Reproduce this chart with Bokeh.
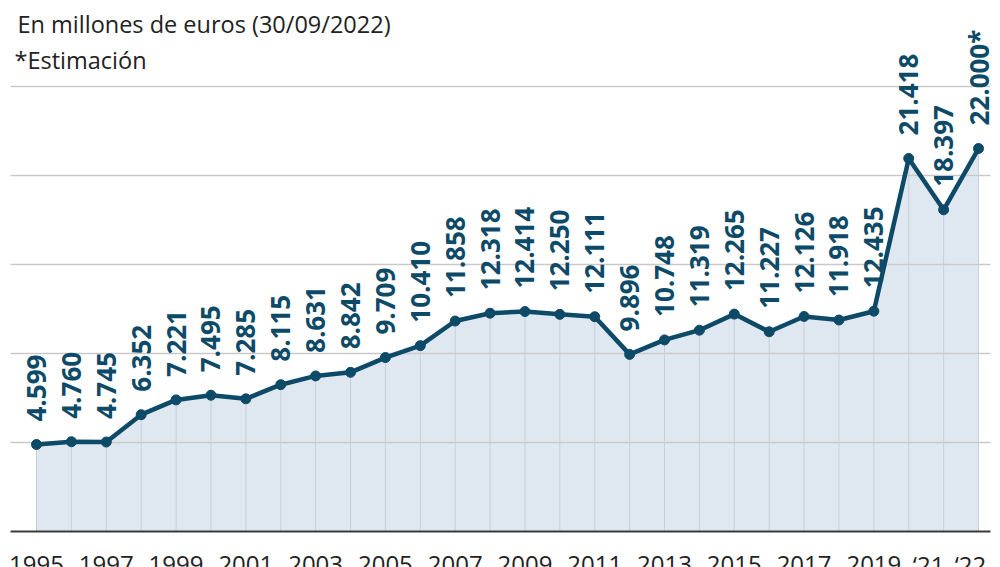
import math
from bokeh.plotting import figure
from bokeh.models import ColumnDataSource, Label
from bokeh.core.properties import value
from bokeh.embed import file_html
from bokeh.resources import INLINE

years = list(range(1995, 2023))
values = [4599, 4760, 4745, 6352, 7221, 7495, 7285, 8115, 8631, 8842, 9709, 10410,
          11858, 12318, 12414, 12250, 12111, 9896, 10748, 11319, 12265, 11227, 12126,
          11918, 12435, 21418, 18397, 22000]
estimated = [False] * 27 + [True]
tick_years = [1995, 1997, 1999, 2001, 2003, 2005, 2007, 2009, 2011, 2013, 2015, 2017, 2019, 2021, 2022]
tick_labels = ["1995", "1997", "1999", "2001", "2003", "2005", "2007", "2009", "2011",
               "2013", "2015", "2017", "2019", "\u201821", "\u201822"]

LINE = "#0d4a68"
FILL = "#dfe8f1"
FONT = "Open Sans"

W, H = 1000, 567
BASE = -516
GRID_STEP = 5232

def fmt(v, est):
    s = f"{v:,}".replace(",", ".")
    return s + ("*" if est else "")

p = figure(width=W, height=H, output_backend="svg", toolbar_location=None,
           x_range=(1993.968, 2022.63), y_range=(-2632, 30702),
           min_border=0, outline_line_color=None)
p.xaxis.visible = False
p.yaxis.visible = False
p.xgrid.visible = False
p.ygrid.visible = False
p.background_fill_color = "white"
p.border_fill_color = "white"

src = ColumnDataSource(dict(x=years, y=values, base=[BASE] * len(years),
                            lab=[fmt(v, e) for v, e in zip(values, estimated)]))

# area
p.varea(x="x", y1="base", y2="y", source=src, fill_color=FILL)

# horizontal gridlines
gx0, gx1 = 1994.255, 2022.343
grid_levels = [BASE + GRID_STEP * k for k in range(1, 6)]
p.segment(x0=[gx0] * len(grid_levels), x1=[gx1] * len(grid_levels),
          y0=grid_levels, y1=grid_levels, line_color="#c9c9c9", line_width=1.5)

# vertical lines under the curve
p.segment(x0="x", x1="x", y0="base", y1="y", source=src, line_color="#c5d0da", line_width=1)

# axis line
p.segment(x0=[gx0], x1=[gx1], y0=[BASE], y1=[BASE], line_color="#3a3a3a", line_width=2)

# line and markers
p.line(x="x", y="y", source=src, line_color=LINE, line_width=4.5, line_join="round")
p.scatter(x="x", y="y", source=src, size=10, fill_color=LINE, line_color=LINE)

# value labels
p.text(x="x", y="y", text="lab", source=src, angle=math.pi / 2, y_offset=-23,
       text_align="left", text_baseline="middle", text_color=LINE,
       text_font=value(FONT), text_font_style="bold", text_font_size="26px")

# x tick labels
dx = [0] * (len(tick_years) - 2) + [-15, -8]
tsrc = ColumnDataSource(dict(x=tick_years, y=[BASE] * len(tick_years), t=tick_labels, dx=dx))
p.text(x="x", y="y", text="t", source=tsrc, x_offset="dx", y_offset=33,
       text_align="center", text_baseline="alphabetic", text_color="#222222",
       text_font=value(FONT), text_font_size="24px")

# header texts
p.add_layout(Label(x=17, y=H - 23, x_units="screen", y_units="screen",
                   text="En millones de euros (30/09/2022)", text_font=FONT,
                   text_font_size="23.5px", text_color="#222222", text_baseline="alphabetic"))
p.add_layout(Label(x=14, y=H - 59, x_units="screen", y_units="screen",
                   text="*Estimación", text_font=FONT,
                   text_font_size="23.5px", text_color="#222222", text_baseline="alphabetic"))

open("out.html", "w").write(file_html(p, INLINE))
